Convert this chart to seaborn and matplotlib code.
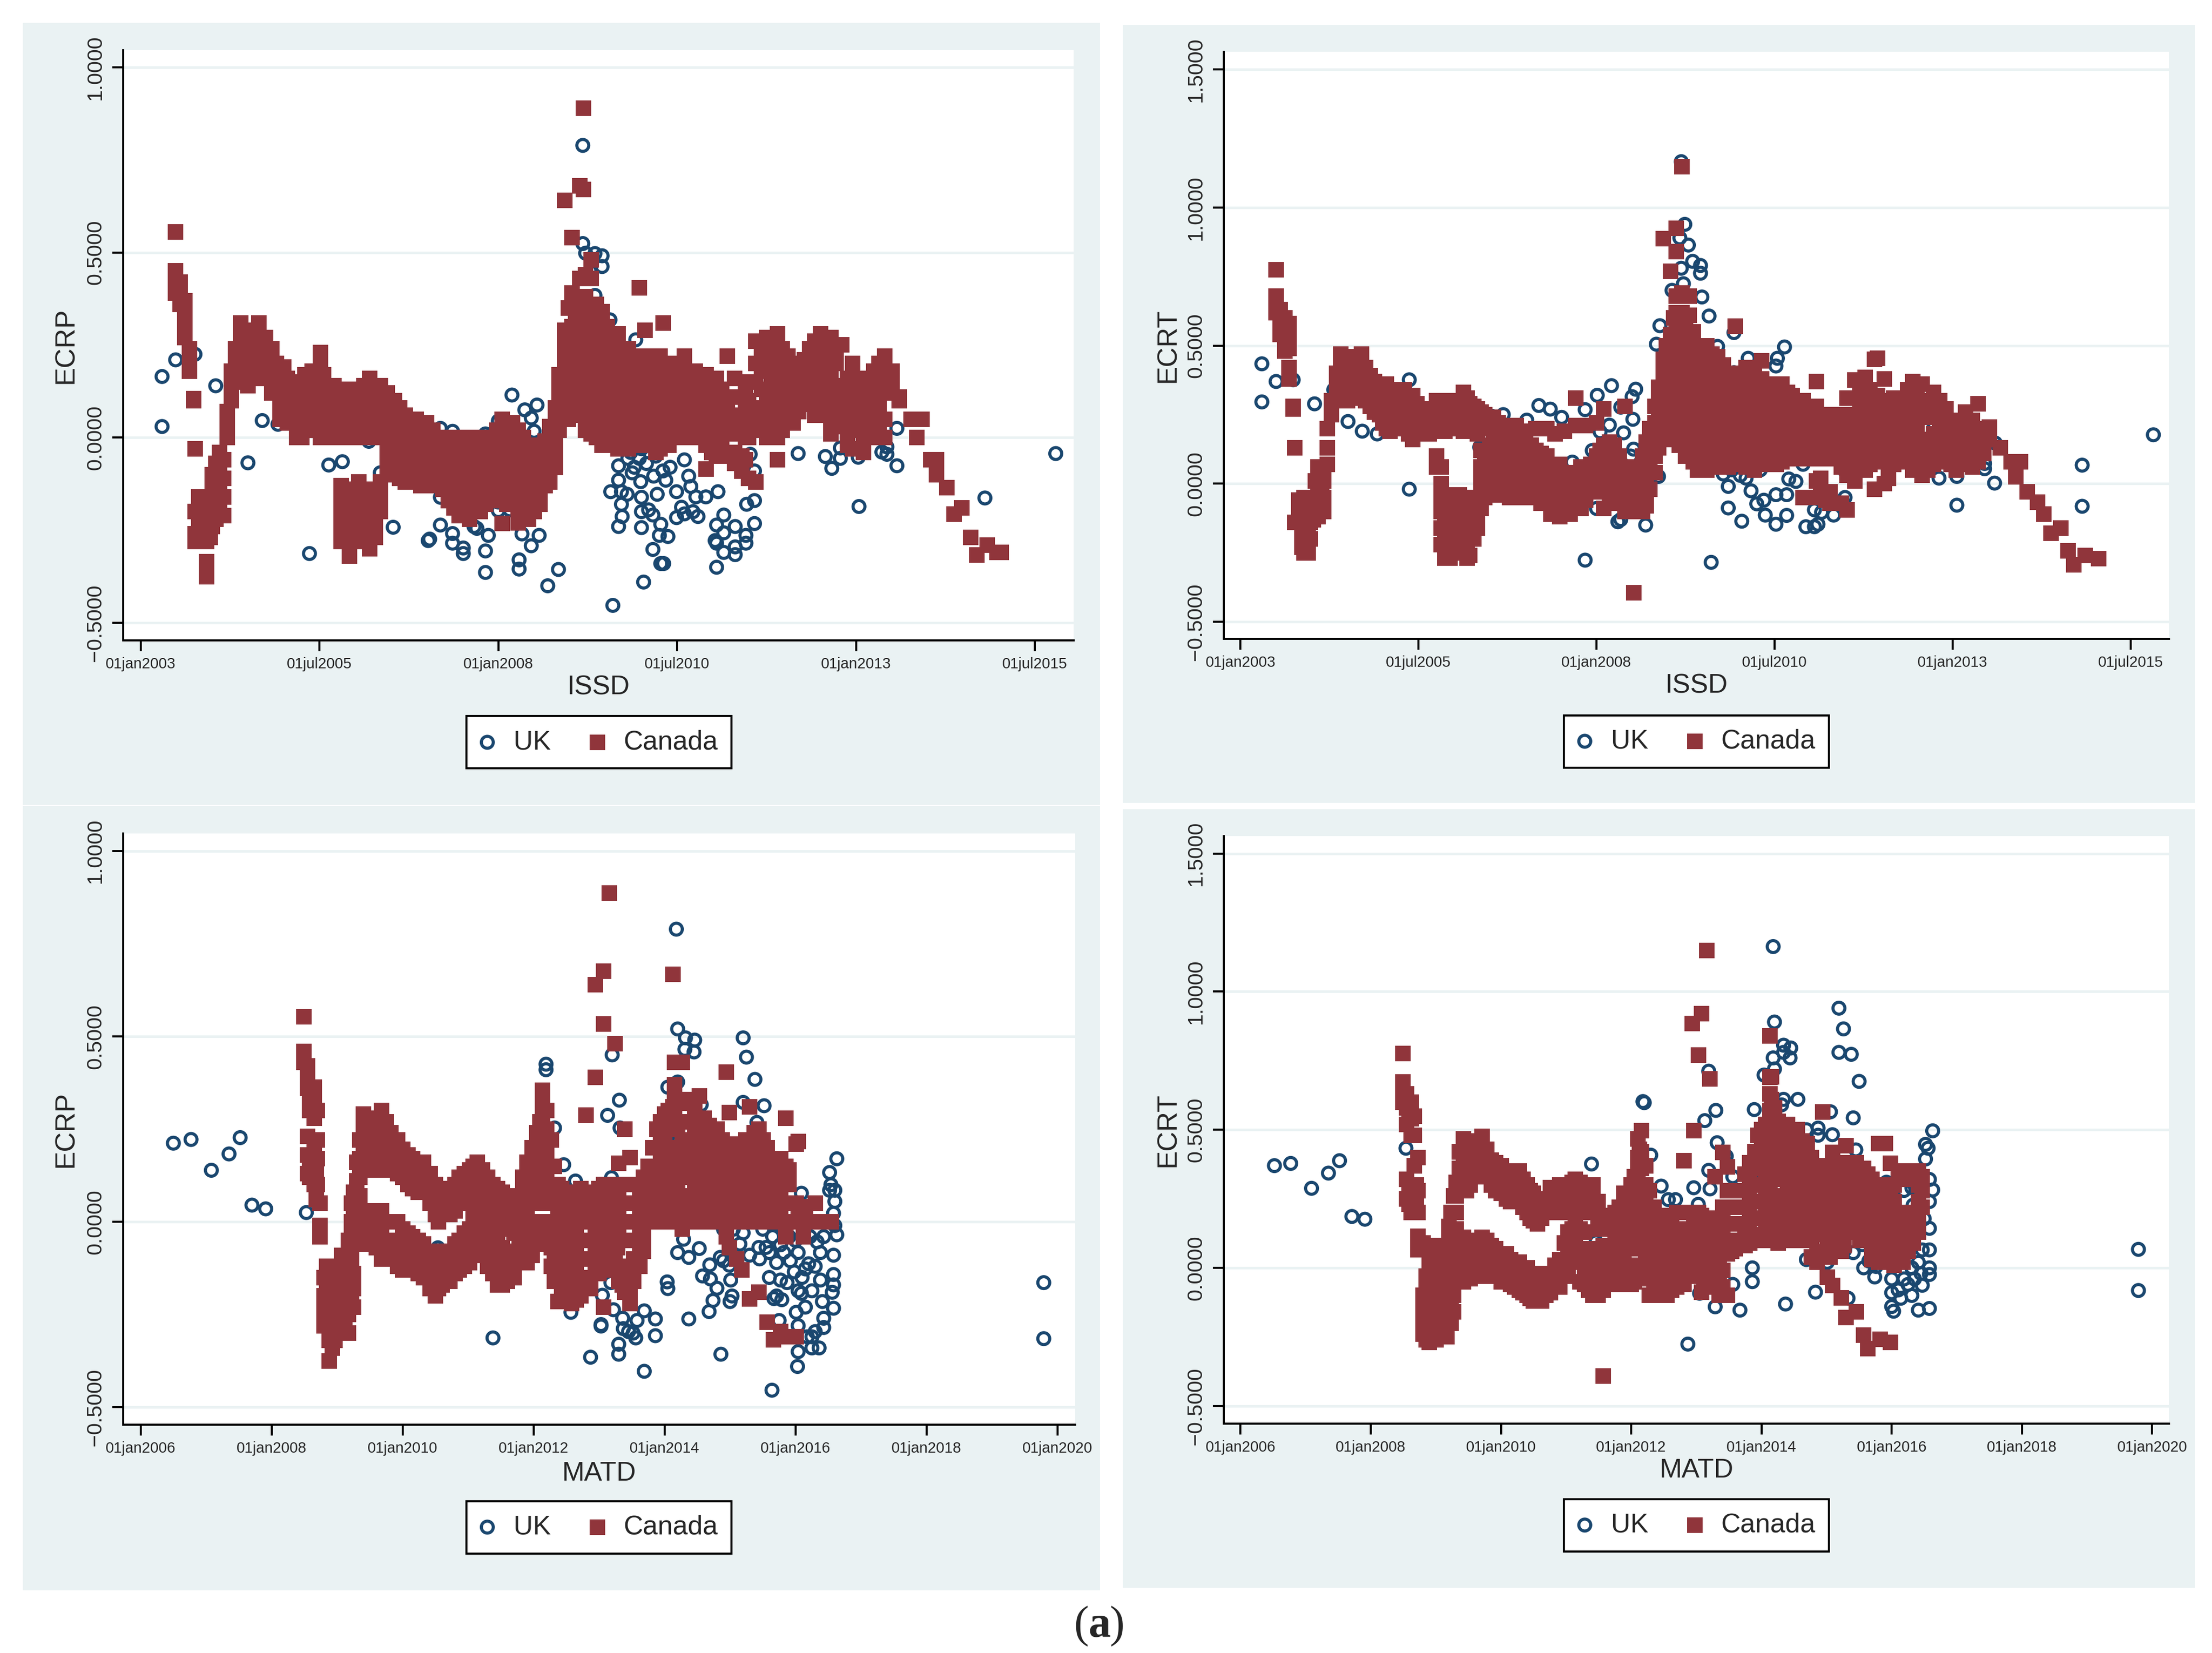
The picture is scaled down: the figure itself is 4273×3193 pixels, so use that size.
import matplotlib
matplotlib.use("Agg")
import matplotlib.pyplot as plt
from matplotlib.patches import Rectangle
import seaborn as sns
import pandas as pd

# figure size in pixels, everything below is placed in pixels too
W = 4273
H = 3193

NAVY = "#1a476f"
MAROON = "#90353b"
PANEL_BG = "#eaf2f3"

# dates are decimal years
issd_ticks = [2003.0, 2005.5, 2008.0, 2010.5, 2013.0, 2015.5]
issd_labels = ["01jan2003", "01jul2005", "01jan2008", "01jul2010", "01jan2013", "01jul2015"]
matd_ticks = [2006, 2008, 2010, 2012, 2014, 2016, 2018, 2020]
matd_labels = ["01jan2006", "01jan2008", "01jan2010", "01jan2012", "01jan2014", "01jan2016", "01jan2018", "01jan2020"]
ecrp_ticks = [-0.5, 0.0, 0.5, 1.0]
ecrt_ticks = [-0.5, 0.0, 0.5, 1.0, 1.5]

uk_issd_ecrp = [
    (2003.3,.165),(2003.3,.03),(2003.49,.21),(2003.76,.225),(2004.05,.14),(2004.35,.184),(2004.5,-.068),
    (2004.7,.046),(2004.92,.036),(2005.19,.014),(2005.36,.07),(2005.36,-.313),(2005.63,-.074),(2005.82,-.065),
    (2006.19,-.01),(2006.35,-.095),(2006.53,-.242),(2007.02,-.278),(2007.04,-.274),(2007.19,-.161),(2007.19,-.236),
    (2007.19,.025),(2007.36,.017),(2007.36,-.259),(2007.36,-.285),(2007.51,-.011),(2007.51,-.298),(2007.51,-.313),
    (2007.66,-.053),(2007.66,-.24),(2007.7,-.245),(2007.82,.01),(2007.82,-.306),(2007.82,-.364),(2007.86,-.264),
    (2008.0,.045),(2008.0,-.174),(2008.0,-.197),(2008.16,-.195),(2008.19,.115),(2008.29,-.33),(2008.29,-.355),
    (2008.33,-.26),(2008.37,.075),(2008.46,.053),(2008.46,-.292),(2008.5,.017),(2008.54,.088),(2008.57,-.264),
    (2008.69,-.4),(2008.84,-.356),(2008.8,-.042),(2009.03,.07),(2009.05,.362),(2009.18,.789),(2009.18,.524),
    (2009.22,.498),(2009.35,.497),(2009.45,.491),(2009.45,.462),(2009.28,.45),(2009.35,.384),(2009.56,.318),
    (2009.45,.313),(2009.92,.264),(2009.6,-.453),(2010.03,-.39),(2009.68,-.076),(2009.68,-.115),(2009.57,-.146),
    (2009.72,-.146),(2009.72,-.18),(2009.68,-.24),(2009.73,-.213),(2009.81,-.056),(2009.8,-.153),(2009.87,-.095),
    (2009.97,-.056),(2009.99,-.119),(2010.0,-.161),(2010.0,-.2),(2010.0,-.243),(2010.1,-.195),(2010.16,-.209),
    (2010.16,-.302),(2010.27,-.234),(2010.25,-.264),(2010.27,-.34),(2010.31,-.34),(2010.37,-.267),(2010.22,-.153),
    (2010.34,-.115),(2010.17,-.104),(2010.07,-.07),(2010.49,-.216),(2010.49,-.146),(2010.56,-.188),(2010.6,-.206),
    (2010.72,-.2),(2010.79,-.213),(2010.69,-.132),(2010.66,-.104),(2010.76,-.16),(2010.9,-.16),(2011.07,-.146),
    (2011.05,-.35),(2011.05,-.236),(2011.03,-.278),(2011.05,-.285),(2011.15,-.209),(2011.15,-.257),(2011.15,-.31),
    (2011.31,-.24),(2011.31,-.295),(2011.31,-.316),(2011.46,-.264),(2011.46,-.285),(2011.47,-.18),(2011.58,-.17),
    (2011.58,-.232),(2011.58,-.09),(2011.52,-.045),(2011.87,.025),(2012.19,-.043),(2011.92,.07),(2012.57,-.051),
    (2012.66,-.083),(2012.78,-.056),(2012.78,-.028),(2012.68,.09),(2013.03,-.053),(2013.04,-.186),(2013.36,-.039),
    (2013.43,-.025),(2013.43,-.045),(2013.57,-.076),(2013.57,.025),(2014.8,-.163),(2015.79,-.043),(2011.68,.08),
    (2012.54,.11),(2009.85,-.04),(2010.0,-.03),(2010.2,-.05),(2010.4,-.08),(2010.6,-.06),(2009.9,-.08),(2010.3,-.09),
]

canada_issd_ecrp = [
    (2003.49,[.555,.45,.42,.39]),(2003.55,[.42,.38,.36]),(2003.62,[.37,.33,.3,.27]),(2003.68,[.24,.21,.18]),
    (2003.74,[.1,.105]),(2003.76,[-.03,-.2,-.26,-.28]),(2003.85,[-.17,-.2,-.24,-.28]),(2003.92,[-.335,-.376,-.28]),
    (2003.97,[-.17,-.22,-.27]),(2004.05,[-.07,-.12,-.17,-.22]),(2004.16,[-.06,-.11,-.16,-.21]),(2004.21,[0.0,.03,.07]),
    (2004.27,[.1,.14,.18]),(2004.4,[.31,.27,.24,.2,.15]),(2004.5,[.29,.25,.21,.14]),(2004.65,[.31,.27,.24]),
    (2004.75,[.27,.23,.19,.16]),(2004.9,[.2,.16,.13]),(2005.0,[.19,.15,.11,.07]),(2005.1,[.14,.1,.05]),
    (2005.18,[0.0,.03,.13]),(2005.3,[.17,.13,.1,.05]),(2005.51,[.23,.19,.15,.11,.07,.03,0.0]),(2005.62,[.14,.1,.06,.02,0.0]),
    (2005.8,[.13,.09,.05,.01,-.13,-.17,-.2,-.24,-.28]),(2005.92,[.13,.09,.04,0.0,-.15,-.2,-.25,-.29,-.32]),
    (2006.05,[.13,.1,.05,0.0,-.12,-.17,-.22,-.27]),(2006.2,[.16,.12,.08,0.0,-.17,-.21,-.25,-.3]),
    (2006.35,[.14,.1,.06,0.0,-.12,-.16,-.2]),(2006.55,[.1,.06,.02,-.02,-.06,-.1]),(2006.7,[.06,.02,-.02,-.06,-.1,-.12]),
    (2006.85,[.05,0.0,-.04,-.08,-.12]),(2007.0,[.04,0.0,-.04,-.08,-.12]),(2007.15,[0.0,-.04,-.08,-.12]),
    (2007.3,[0.0,-.05,-.09,-.13,-.17]),(2007.45,[0.0,-.05,-.1,-.14,-.18,-.21]),(2007.6,[0.0,-.06,-.1,-.14,-.18,-.22]),
    (2007.75,[0.0,-.04,-.08,-.12,-.16,-.2]),(2007.9,[0.0,-.04,-.08,-.12,-.16]),(2008.05,[.05,0.0,-.04,-.08,-.12,-.231]),
    (2008.2,[.04,0.0,-.04,-.08,-.12,-.16]),(2008.35,[0.0,-.05,-.09,-.13,-.17,-.21]),(2008.5,[-.04,-.08,-.12,-.16,-.2]),
    (2008.65,[-.01,-.05,-.09,-.13]),(2008.8,[.08,.04,0.0,-.04,-.08]),(2008.85,[.17,.13,.1,.06,.02]),
    (2008.93,[.64,.29,.25,.21,.17,.13]),(2009.03,[.54,.39,.3,.26,.22,.18,.14]),
    (2009.14,[.68,.43,.36,.32,.28,.24,.2,.16,.12,.06]),(2009.19,[.89,.67]),
    (2009.3,[.48,.43,.34,.3,.26,.22,.18,.14,.1,.05,.01]),(2009.45,[.34,.3,.26,.22,.18,.14,.1,.06,.02,-.02]),
    (2009.6,[.26,.22,.18,.14,.1,.06,.02,-.02]),(2009.75,[.24,.2,.16,.12,.08,.04,0.0,-.03]),(2009.9,[.2,.16,.12,.08,.04,0.0]),
    (2009.97,[.405]),(2010.05,[.29,.2,.16,.12,.08,.04,0.0]),(2010.2,[.2,.16,.12,.08,.04,0.0,-.04]),
    (2010.3,[.31,.19,.15,.11,.07,.03,0.0]),(2010.45,[.2,.16,.12,.08,.04,0.0]),(2010.6,[.22,.15,.1,.05,0.0]),
    (2010.75,[.18,.12,.08,.04,0.0]),(2010.9,[.17,.1,.06,.02,-.02,-.085]),(2011.05,[.16,.1,.05,0.0,-.05]),
    (2011.2,[.22,.1,.06,.02,-.04]),(2011.4,[.11,.06,.02,-.05,-.09]),(2011.5,[.15,.1,0.0,-.11]),
    (2011.6,[.26,.2,.15,.06,.02,-.12]),(2011.75,[.27,.22,.18,.12,.07,0.0]),(2011.9,[.28,.18,.14,.1,.06,0.0,-.06]),
    (2012.05,[.22,.18,.13,.09,.04]),(2012.2,[.2,.15,.12,.07]),(2012.35,[.24,.18,.13,.09]),(2012.5,[.28,.23,.2,.15,.08]),
    (2012.65,[.27,.22,.18,.1,.05,.01]),(2012.8,[.25,.14,.08,.04]),(2012.95,[.2,.14,.08,.02,-.03]),(2013.1,[.14,.08,0.0,-.04]),
    (2013.25,[.18,.14,.04,0.0]),(2013.4,[.22,.17,.12,.05,0.0]),(2013.5,[.18,.14]),(2013.6,[.11,.1]),
    (2013.77,[.05]),(2013.85,[0.0]),(2013.92,[.05]),(2014.04,[-.06]),(2014.12,[-.06,-.1]),(2014.27,[-.135]),
    (2014.37,[-.206]),(2014.48,[-.19]),(2014.6,[-.27]),(2014.69,[-.317]),(2014.83,[-.29]),(2014.97,[-.31]),(2015.03,[-.31]),
    # the thick part of the band
    (2004.33,[.2,.16,.24]),(2004.45,[.29,.23,.18]),(2004.58,[.28,.24,.2,.16]),(2004.7,[.22,.18]),(2004.83,[.24,.2,.16,.12]),
    (2004.95,[.17,.13,.09,.05]),(2005.05,[.16,.12,.08,.04]),(2005.25,[.15,.11,.07,.03,0.0]),(2005.4,[.18,.14,.1,.06,.02]),
    (2005.56,[.17,.13,.09,.05,.01]),(2005.7,[.14,.1,.06,.02,0.0]),(2003.81,[-.16,-.22,-.24]),(2003.88,[-.26,-.22,-.18]),
    (2004.0,[-.24,-.2,-.14,-.1]),(2004.1,[-.08,-.14,-.2,-.04]),(2005.86,[-.14,-.22,-.26,.11,.07,.03,0.0]),
    (2005.98,[-.14,-.18,-.24,-.28,.11,.07,.02]),(2006.12,[-.14,-.19,-.24,-.28,.14,.1,.06,.02]),
    (2006.28,[-.14,-.18,-.23,-.27,.14,.1,.06,.02]),(2006.45,[.12,.08,.04,0.0,-.04,-.08]),(2006.62,[.08,.04,0.0,-.04,-.08,-.11]),
    (2006.78,[.04,0.0,-.04,-.08,-.12]),(2006.92,[.02,-.02,-.06,-.1,-.13]),(2007.08,[.02,-.02,-.06,-.1,-.13]),
    (2007.22,[-.02,-.06,-.1,-.14]),(2007.38,[-.02,-.07,-.11,-.15,-.19]),(2007.52,[-.02,-.07,-.12,-.16,-.2]),
    (2007.68,[-.02,-.08,-.12,-.16,-.2]),(2007.82,[-.02,-.06,-.1,-.14,-.18]),(2007.98,[.02,-.02,-.06,-.1,-.14,-.17]),
    (2008.12,[.02,-.02,-.06,-.1,-.14,-.18]),(2008.28,[.02,-.02,-.07,-.11,-.15,-.19,-.23]),(2008.42,[-.02,-.06,-.1,-.14,-.18,-.22]),
    (2008.58,[-.02,-.06,-.1,-.14,-.18]),(2008.72,[.03,-.01,-.05,-.09,-.12]),(2008.98,[.28,.24,.2,.16,.12,.09,.05,.35]),
    (2009.08,[.34,.3,.26,.22,.18,.14,.1]),(2009.22,[.38,.34,.3,.26,.22,.18,.14,.1,.06,.02,.44]),
    (2009.37,[.36,.32,.28,.24,.2,.16,.12,.08,.04,0.0]),(2009.52,[.3,.26,.22,.18,.14,.1,.06,.02,-.02]),
    (2009.67,[.28,.24,.2,.16,.12,.08,.04,0.0,-.03]),(2009.82,[.24,.2,.16,.12,.08,.04,0.0,-.03]),
    (2009.98,[.22,.18,.14,.1,.06,.02,-.02]),(2010.12,[.22,.18,.14,.1,.06,.02,-.02]),(2010.26,[.22,.18,.14,.1,.06,.02,-.03]),
    (2010.38,[.2,.16,.12,.08,.04,0.0,-.02]),(2010.52,[.2,.17,.13,.09,.05,.01]),(2010.68,[.18,.14,.1,.06,.02]),
    (2010.82,[.14,.1,.06,.02]),(2010.98,[.14,.09,.04,0.0,-.04]),(2011.12,[.13,.08,.04,0.0,-.05]),(2011.3,[.16,.11,.06,.01,-.04,-.07]),
    (2011.45,[.13,.08,.04,0.0,-.06]),(2011.68,[.24,.18,.13,.08,.04]),(2011.82,[.25,.2,.15,.1,.05,.02]),(2011.97,[.24,.2,.15,.1,.06,.02]),
    (2012.12,[.2,.16,.12,.08,.04]),(2012.28,[.21,.17,.13,.1]),(2012.42,[.26,.22,.18,.14,.1,.06]),(2012.58,[.27,.23,.19,.14,.1,.06]),
    (2012.72,[.24,.2,.12,.07,.03]),(2012.88,[.16,.1,.06,.02,-.02]),(2013.02,[.16,.1,.06,.02]),(2013.18,[.16,.12,.06,.02]),
    (2013.32,[.2,.16,.1,.06,.02]),
]

uk_issd_ecrt = [
    (2003.3,.434),(2003.3,.296),(2003.5,.37),(2003.74,.376),(2004.04,.289),(2004.31,.34),(2004.51,.225),(2004.71,.19),
    (2004.92,.18),(2005.37,.376),(2005.37,-.02),(2006.36,.132),(2006.53,.244),(2006.69,.25),(2006.87,.165),(2007.02,.23),
    (2007.19,.283),(2007.35,.27),(2007.51,.24),(2007.66,.078),(2007.84,.268),(2007.84,-.277),(2007.94,.12),(2008.0,-.09),
    (2008.01,.32),(2008.05,.188),(2008.18,.212),(2008.21,.355),(2008.3,-.138),(2008.34,-.13),(2008.34,.277),(2008.38,.184),
    (2008.48,.1),(2008.52,.125),(2008.51,.233),(2008.55,.342),(2008.5,.315),(2008.69,-.15),(2008.79,.11),(2008.87,.026),
    (2008.89,.572),(2008.84,.505),(2009.06,.7),(2009.19,1.166),(2009.24,.939),(2009.17,.89),(2009.29,.864),(2009.35,.805),
    (2009.46,.79),(2009.46,.762),(2009.19,.78),(2009.22,.724),(2009.48,.676),(2009.58,.607),(2009.93,.547),(2009.7,.497),
    (2010.13,.454),(2009.93,.402),(2010.64,.495),(2010.54,.454),(2010.52,.426),(2009.61,-.285),(2009.85,-.088),(2009.85,-.01),
    (2009.78,.035),(2010.04,-.136),(2010.02,.03),(2010.17,-.026),(2010.25,-.073),(2010.35,-.06),(2010.37,-.114),(2010.52,-.04),
    (2010.52,-.147),(2010.67,-.115),(2010.67,-.04),(2010.7,.017),(2010.8,.008),(2010.94,-.156),(2011.06,-.156),(2011.11,-.147),
    (2011.06,-.095),(2011.16,-.104),(2011.33,-.114),(2011.49,-.05),(2011.49,.045),(2011.6,.23),(2011.85,.13),(2011.83,.1),
    (2012.1,.095),(2012.23,.12),(2012.59,.2),(2012.81,.02),(2013.06,-.078),(2013.06,.026),(2013.45,.073),(2013.45,.054),
    (2013.59,.002),(2013.6,.147),(2014.82,.067),(2014.82,-.082),(2015.82,.177),(2009.9,.05),(2010.1,.02),(2010.3,.05),
    (2010.9,.07),(2011.0,.16),(2011.15,.15),(2011.3,.1),(2011.7,.06),(2012.4,.15),(2012.7,.17),(2013.2,.08),
]

canada_issd_ecrt = [
    (2003.5,[.775,.68,.65,.62]),(2003.56,[.63,.6,.57,.54]),(2003.62,[.6,.56,.52,.48]),(2003.68,[.58,.54,.49,.42,.38]),
    (2003.74,[.28,.27]),(2003.76,[.13,-.14]),(2003.82,[-.06,-.1,-.14]),(2003.89,[-.05,-.1,-.15,-.2,-.25]),
    (2003.95,[-.06,-.11,-.16,-.25]),(2004.02,[-.05,-.09,-.13]),(2004.09,[.06,.02,-.03,-.08,-.12]),(2004.17,[.06,.01,-.05,-.1]),
    (2004.22,[.2,.13,.07]),(2004.28,[.3,.25]),(2004.35,[.4,.35,.3]),(2004.41,[.47,.43,.39,.35,.32]),(2004.5,[.46,.42,.38,.34,.3]),
    (2004.6,[.45,.41,.37]),(2004.7,[.47,.43,.39,.35]),(2004.82,[.39,.35,.31,.28]),(2004.95,[.36,.33,.29,.25]),
    (2005.05,[.36,.32,.28,.24,.2]),(2005.15,[.33,.29,.25,.2]),(2005.3,[.34,.3,.26,.22]),(2005.42,[.32,.28,.24,.2,.16]),
    (2005.52,[.27,.23,.19]),(2005.65,[.25,.21,.18]),(2005.75,[.3,.25,.21,.1,.06]),(2005.87,[.3,.26,.22,.19,-.05,-.1,-.15,-.2,-.27]),
    (2006.0,[.3,.25,.21,-.06,-.12,-.17,-.22]),(2006.13,[.33,.28,.23,.19,-.05,-.1,-.15,-.2,-.25]),(2006.22,[.29,.24,.2,-.1,-.15,-.2,-.26]),
    (2006.33,[.27,.22,.18,-.07,-.12,-.16]),(2006.43,[.25,.2,.1,.05,0.0,-.05]),(2006.55,[.24,.19,.13,.08,.03]),
    (2006.7,[.21,.16,.12,.07,.02,-.03]),(2006.87,[.21,.18,.13,.08,.03]),(2007.0,[.19,.12,.07,.02,-.03]),(2007.15,[.2,.12,.07,.02,-.05]),
    (2007.3,[.2,.1,.05,0.0,-.06]),(2007.42,[.18,.05,0.0,-.05,-.11]),(2007.55,[.19,.02,-.04,-.1]),(2007.71,[.31,.21,.03,-.03,-.08]),
    (2007.85,[.21,.05,0.0,-.06]),(2008.0,[.22,.1,.05,0.0]),(2008.1,[.27,.14,.09,.04,-.09]),(2008.25,[.14,.08,.03,-.03]),
    (2008.4,[.28,.06,.01,-.05,-.1]),(2008.52,[.03,-.03,-.08,-.395]),(2008.65,[.1,.05,-.01,-.06,-.1]),(2008.75,[.2,.15,.09,.04,-.02]),
    (2008.87,[.35,.3,.25,.19,.13]),(2008.94,[.887,.45,.4,.35,.3,.25,.2]),(2009.04,[.77,.54,.48,.42,.36,.3,.25,.2,.16]),
    (2009.12,[.925,.84,.68,.62,.56,.5,.44,.38,.32,.26,.2,.16]),(2009.2,[1.147,.69,.62,.565,.5,.45,.4,.34,.28,.22,.17]),
    (2009.3,[.68,.61,.52,.46,.4,.34,.28,.22,.16,.1]),(2009.42,[.5,.44,.38,.32,.26,.2,.14,.08,.05]),
    (2009.55,[.5,.44,.38,.32,.26,.2,.14,.08,.05]),(2009.7,[.46,.4,.34,.28,.22,.16,.1,.06]),(2009.85,[.4,.34,.28,.22,.16,.1,.06]),
    (2009.95,[.57,.38,.32,.26,.2,.14,.08]),(2010.1,[.42,.36,.3,.24,.18,.12,.06]),(2010.22,[.4,.34,.28,.22,.16,.1,.05]),
    (2010.32,[.445,.38,.32,.26,.2,.14,.08]),(2010.45,[.36,.3,.24,.18,.12,.08]),(2010.6,[.36,.3,.24,.18,.12,.08]),
    (2010.75,[.32,.26,.2,.14,.09]),(2010.9,[.3,.24,.18,.12,.09,-.05]),(2011.09,[.37,.28,.22,.16,.11,.01,-.05]),
    (2011.22,[.25,.2,.15,.1,-.06]),(2011.35,[.25,.2,.15,.1,-.07]),(2011.52,[.31,.2,.12,.08,.03,-.095]),
    (2011.63,[.375,.31,.22,.12,.06,.01]),(2011.77,[.385,.31,.25,.19,.05]),(2011.9,[.45,.31,.26,.2,.15,-.02]),
    (2011.95,[.455,.32,.27,.2]),(2012.04,[.38,.3,.25,.2,.15,0.0]),(2012.17,[.31,.25,.2,.14,.07]),(2012.3,[.31,.26,.2,.14,.09]),
    (2012.44,[.37,.32,.26,.2,.11,.05]),(2012.57,[.36,.3,.25,.16,.08,.03]),(2012.73,[.33,.27,.18,.12,.07]),
    (2012.91,[.27,.19,.13,.08]),(2013.05,[.2,.15,.1,.05]),(2013.18,[.26,.2,.14,.07]),(2013.36,[.29,.18,.13,.08]),
    (2013.52,[.205,.16]),(2013.67,[.13]),(2013.82,[.08]),(2013.89,[.025]),(2013.95,[.08]),(2014.05,[-.03]),(2014.19,[-.067]),
    (2014.28,[-.11]),(2014.38,[-.18]),(2014.52,[-.16]),(2014.62,[-.244]),(2014.7,[-.294]),(2014.86,[-.26]),(2015.05,[-.272]),
    # the thick part of the band
    (2003.86,[-.08,-.13,-.18,-.23]),(2003.98,[-.08,-.14,-.2]),(2004.05,[.01,-.05,-.11]),(2004.14,[.04,-.02,-.08]),
    (2004.45,[.44,.4,.36,.32]),(2004.55,[.43,.39,.35,.31]),(2004.65,[.42,.38,.34]),(2004.76,[.42,.38,.34,.3]),
    (2004.88,[.37,.33,.29,.26]),(2005.0,[.34,.3,.26,.22]),(2005.1,[.34,.3,.26,.22,.19]),(2005.22,[.32,.28,.24,.2]),
    (2005.36,[.32,.28,.24,.2,.18]),(2005.48,[.29,.25,.21,.18]),(2005.58,[.26,.22,.19]),(2005.7,[.27,.23,.2]),
    (2005.82,[.06,0.0,-.05,-.1,-.16,-.22,.28,.24,.2]),(2005.94,[.28,.24,.2,-.04,-.09,-.14,-.19,-.24,-.27]),
    (2006.07,[.3,.25,.2,-.04,-.09,-.14,-.19,-.24]),(2006.18,[.31,.26,.21,-.07,-.12,-.18,-.23,-.27]),
    (2006.28,[.28,.23,.19,-.05,-.1,-.15,-.2]),(2006.38,[.26,.21,.12,.06,.01,-.04,-.09]),(2006.5,[.24,.2,.14,.08,.03,-.02]),
    (2006.62,[.22,.17,.12,.06,.01,-.04]),(2006.78,[.21,.15,.1,.05,0.0,-.05]),(2006.94,[.14,.09,.04,-.01,-.05]),
    (2007.08,[.14,.09,.04,-.01,-.05]),(2007.22,[.11,.06,.01,-.04,-.07]),(2007.36,[.07,.02,-.03,-.08,-.11]),
    (2007.48,[.07,.02,-.02,-.07,-.12]),(2007.63,[.04,-.01,-.06,-.11]),(2007.78,[.06,.01,-.04,-.09]),(2007.92,[.07,.02,-.03]),
    (2008.05,[.12,.07,.02,-.03]),(2008.18,[.15,.1,.05,0.0,-.05]),(2008.32,[.1,.05,-.02,-.07]),(2008.46,[.05,0.0,-.05,-.1]),
    (2008.58,[.06,0.0,-.05,-.1]),(2008.7,[.15,.08,.02,-.04,-.08]),(2008.82,[.28,.22,.16,.1,.04]),
    (2008.98,[.5,.45,.39,.33,.27,.22,.18]),(2009.08,[.6,.54,.48,.42,.36,.3,.24,.19]),(2009.16,[.6,.53,.47,.41,.35,.3,.24,.19,.14]),
    (2009.25,[.58,.5,.43,.37,.31,.25,.19,.14,.1]),(2009.36,[.55,.49,.43,.37,.31,.25,.19,.13,.08]),
    (2009.48,[.47,.41,.35,.29,.23,.17,.11,.07]),(2009.62,[.47,.41,.35,.29,.23,.17,.11,.07]),(2009.78,[.43,.37,.31,.25,.19,.13,.08]),
    (2009.9,[.37,.31,.25,.19,.13,.08]),(2010.02,[.4,.35,.29,.23,.17,.11,.07]),(2010.16,[.38,.32,.26,.2,.14,.08]),
    (2010.27,[.36,.3,.24,.18,.12,.07]),(2010.39,[.35,.29,.23,.17,.11,.07]),(2010.52,[.33,.27,.21,.15,.1,.07]),
    (2010.68,[.33,.27,.21,.15,.1]),(2010.82,[.29,.23,.17,.12,.09]),(2010.98,[.27,.21,.15,.11,.09]),
    (2011.15,[.23,.18,.13,.09,.02,-.03]),(2011.28,[.22,.17,.12,.09,-.03,-.07]),(2011.44,[.24,.18,.14,.1,.06,-.07]),
    (2011.57,[.25,.18,.14,.09,.05]),(2011.7,[.34,.28,.22,.16,.1,.05]),(2011.84,[.34,.28,.23,.17,.12,.07]),
    (2011.98,[.3,.24,.18,.12,.08]),(2012.1,[.28,.22,.17,.11,.05,.02]),(2012.24,[.28,.22,.17,.12,.08]),
    (2012.37,[.34,.28,.23,.17,.12,.08]),(2012.5,[.34,.28,.23,.18,.13,.08]),(2012.65,[.3,.24,.14,.1,.05]),
    (2012.82,[.3,.22,.16,.1]),(2012.98,[.23,.17,.12,.07]),(2013.12,[.23,.17,.12,.08]),(2013.28,[.23,.16,.1,.06]),
    (2013.44,[.2,.16,.11]),
]

uk_matd_ecrp = [
    (2006.5,.212),(2006.77,.222),(2007.08,.139),(2007.35,.183),(2007.52,.227),(2007.7,.045),(2007.91,.035),(2008.53,.025),
    (2010.54,-.07),(2011.38,-.313),(2012.05,.075),(2012.05,0.0),(2012.19,.425),(2012.19,.41),(2012.32,.253),(2012.46,.154),
    (2012.64,.11),(2012.57,-.244),(2012.87,-.365),(2013.03,-.277),(2013.03,-.281),(2013.05,-.198),(2013.2,.45),(2013.31,.328),
    (2013.13,.287),(2013.32,.253),(2013.19,.119),(2013.18,-.164),(2013.22,-.237),(2013.3,-.33),(2013.3,-.357),(2013.36,-.26),
    (2013.37,-.288),(2013.45,-.296),(2013.52,-.3),(2013.56,-.313),(2013.58,-.266),(2013.69,-.24),(2013.69,-.403),(2013.86,-.262),
    (2013.86,-.307),(2014.04,-.162),(2014.05,-.18),(2014.05,.363),(2014.2,.52),(2014.18,.789),(2014.31,.465),(2014.32,.496),
    (2014.46,.49),(2014.45,.458),(2014.2,.377),(2015.2,.496),(2015.25,.444),(2015.38,.384),(2015.2,.322),(2015.52,.313),
    (2015.41,.268),(2014.56,.316),(2014.05,.231),(2014.18,.195),(2014.37,-.262),(2014.86,-.357),(2015.64,-.454),(2016.03,-.39),
    (2016.04,-.35),(2016.25,-.34),(2016.36,-.34),(2016.25,-.31),(2014.68,-.242),(2015.0,-.215),(2014.74,-.212),(2015.03,-.2),
    (2014.8,-.179),(2014.58,-.146),(2014.7,-.154),(2014.69,-.116),(2014.53,-.072),(2014.37,-.096),(2014.2,-.083),(2014.29,-.047),
    (2015.01,-.157),(2014.85,-.096),(2014.9,-.105),(2014.99,-.117),(2016.63,.17),(2016.52,.133),(2016.54,.1),(2016.52,.085),
    (2016.6,.085),(2016.6,.055),(2016.58,.023),(2016.6,-.01),(2016.63,-.035),(2016.58,-.09),(2016.58,-.142),(2016.58,-.17),
    (2016.56,-.19),(2016.58,-.233),(2016.38,-.157),(2016.41,-.215),(2016.43,-.26),(2016.43,-.285),(2016.3,-.296),(2016.25,-.186),
    (2016.15,-.23),(2016.09,-.193),(2016.04,-.186),(2016.01,-.244),(2016.04,-.28),(2016.18,-.31),(2016.09,.077),(2015.71,-.2),
    (2015.79,-.21),(2015.67,-.207),(2015.75,-.266),(2015.6,-.15),(2015.77,-.157),(2015.87,-.164),(2015.98,-.135),(2016.15,-.127),
    (2016.2,-.113),(2016.04,-.083),(2015.82,-.083),(2015.6,-.083),(2015.44,-.069),(2015.65,-.04),(2015.9,-.04),(2016.22,-.04),
    (2016.38,-.083),(2016.33,-.054),(2016.43,-.04),(2015.71,-.11),(2015.55,-.069),(2015.77,-.062),(2015.92,-.105),(2015.2,-.03),
    (2015.05,-.02),(2014.9,-.02),(2014.7,.02),(2014.6,.05),(2014.75,.04),(2015.0,.03),(2015.15,.04),(2015.3,.05),(2019.79,-.164),
    (2019.79,-.315),(2016.0,-.05),(2015.8,-.02),(2015.5,-.02),(2016.1,-.15),(2016.3,-.12),(2015.45,-.1),(2015.3,-.09),(2015.15,-.06),
]

canada_matd_ecrp = [
    (2008.49,[.553,.46,.43]),(2008.55,[.42,.39,.36,.23,.18,.13]),(2008.65,[.363,.33,.28,.21,.17,.1]),(2008.7,[.3,.22,.17,.1]),
    (2008.74,[.05,-.01,-.04]),(2008.8,[-.15,-.2,-.24,-.28]),(2008.88,[-.14,-.19,-.23,-.27,-.32,-.376]),
    (2008.97,[-.14,-.19,-.23,-.28,-.32]),(2009.07,[-.09,-.13,-.18,-.22,-.27]),(2009.17,[-.05,-.1,-.15,-.2,-.25,-.3]),
    (2009.25,[.08,.03,-.02,-.06,-.14,-.18,-.23]),(2009.3,[.16,.11,.06,0.0,-.04]),(2009.4,[.29,.25,.2,.15,.02,-.02,-.06]),
    (2009.52,[.28,.23,.19,.14,.03,-.02,-.06]),(2009.68,[.3,.26,.21,.16,.03,-.03,-.08,-.1]),(2009.82,[.24,.19,.15,0.0,-.05,-.1]),
    (2010.0,[.195,.16,.12,-.02,-.06,-.1,-.13]),(2010.15,[.17,.13,.09,-.04,-.08,-.13]),(2010.32,[.16,.12,.08,-.06,-.1,-.15]),
    (2010.5,[.1,.06,.02,-.1,-.15,-.2]),(2010.6,[.07,.03,-.08,-.13,-.17]),(2010.72,[.09,.05,.02,-.08,-.12,-.16]),
    (2010.86,[.12,.09,.05,-.05,-.09,-.13]),(2011.02,[.14,.1,.05,-.02,-.07,-.11]),(2011.14,[.16,.12,.08,.05,0.0,-.04]),
    (2011.3,[.12,.08,.04,-.02,-.07,-.12]),(2011.45,[.09,.05,.01,-.06,-.12,-.17]),(2011.6,[.07,.03,-.02,-.08,-.12,-.16]),
    (2011.78,[.05,.01,-.05,-.09,-.11]),(2011.9,[.16,.12,.08,.04,-.02,-.06,-.11]),(2012.05,[.24,.18,.14,.1,.05,0.0,-.05]),
    (2012.14,[.355,.33,.29,.25,.2,.14,.08,-.04]),(2012.27,[.22,.15,.1,.05,-.03,-.07,-.12]),(2012.37,[.1,.06,.02,-.05,-.1,-.15,-.215]),
    (2012.5,[.08,.03,-.02,-.07,-.12,-.17,-.21]),(2012.65,[.07,.02,-.03,-.08,-.13,-.18,-.21]),(2012.8,[.287,.08,.04,0.0,-.05,-.1,-.16]),
    (2012.94,[.64,.39,.07,.03,-.02,-.07,-.12]),(2013.07,[.676,.534,.1,.05,0.0,-.05,-.1,-.23]),(2013.16,[.887,.09,.05,.01,-.04,-.09]),
    (2013.24,[.48,.06,.02,-.03,-.08,-.12]),(2013.3,[.158,.08,.03,-.02,-.12,-.16]),(2013.39,[.25,.1,.05,0.0,-.14,-.19]),
    (2013.47,[.173,.1,.05,0.0,-.18,-.22]),(2013.62,[.1,.06,.02,-.03,-.08,-.12]),(2013.75,[.15,.1,.06,.02]),
    (2013.88,[.25,.2,.14,.08,.04,0.0]),(2014.0,[.29,.24,.18,.12,.06,.02]),(2014.13,[.667,.31,.25,.18,.12,.06,0.0]),
    (2014.15,[.43,.37,.34,.28,.2,.14,.07,.02]),(2014.27,[.43,.32,.27,.21,.03,0.0,-.02]),(2014.4,[.33,.27,.22,.16,.06,0.0]),
    (2014.53,[.34,.28,.23,.18,.13,.07,0.0]),(2014.68,[.26,.22,.17,.12,.07,.05,0.0]),(2014.8,[.25,.2,.15,.1,.05,0.0]),
    (2014.94,[.404,.2,.15,.1,.05,0.0,-.04]),(2014.99,[.294,.19,.14,.09,.04,0.0,-.07]),(2015.1,[.21,.16,.11,.06,0.0,-.1]),
    (2015.18,[.21,.16,.11,.06,0.0,-.13]),(2015.3,[.31,.22,.17,.12,.07,0.0,-.208]),(2015.44,[.25,.2,.15,.1,0.0,-.19]),
    (2015.57,[.2,.15,.1,.05,0.0,-.27]),(2015.66,[.16,.11,.06,.02,0.0,-.318]),(2015.77,[.17,.12,.07,.02,0.0,-.296]),
    (2015.85,[.28,.15,.1,.05,0.0,-.04]),(2015.9,[.14,.1,.05,0.0,-.31]),(2016.01,[.21,.05,0.0,-.31]),(2016.04,[.217,.02,0.0]),
    (2016.12,[.02,0.0,-.04]),(2016.15,[.04,0.0]),(2016.3,[.05,0.0]),(2016.42,[0.0]),(2016.55,[0.0]),
    # the thick part of the band
    (2008.58,[.34,.3,.16,.12]),(2008.68,[.14,.06]),(2008.84,[-.18,-.22,-.26,-.12]),(2008.93,[-.12,-.17,-.21,-.25,-.29,-.34]),
    (2009.02,[-.12,-.16,-.21,-.25,-.3]),(2009.12,[-.1,-.15,-.2,-.24,-.28]),(2009.22,[-.04,-.1,-.16,-.21,0.0,.05]),
    (2009.35,[.22,.17,.12,.07,.01,-.04]),(2009.46,[.26,.22,.17,.03,-.01,-.05]),(2009.6,[.28,.24,.19,.14,.02,-.03,-.07]),
    (2009.75,[.27,.22,.18,.14,0.0,-.05,-.09]),(2009.92,[.22,.18,.13,0.0,-.05,-.09,-.12]),(2010.08,[.18,.14,.1,-.03,-.07,-.12]),
    (2010.24,[.16,.12,.08,-.05,-.09,-.14]),(2010.42,[.13,.09,.05,-.08,-.13,-.18]),(2010.55,[.08,.04,0.0,-.09,-.14,-.18]),
    (2010.66,[.08,.04,-.08,-.12,-.16]),(2010.8,[.1,.06,.03,-.06,-.1,-.14]),(2010.94,[.13,.09,.05,-.03,-.08,-.12]),
    (2011.08,[.15,.11,.06,.02,-.02,-.06]),(2011.22,[.14,.1,.06,.01,-.04,-.09]),(2011.38,[.1,.06,.02,-.04,-.09,-.14]),
    (2011.52,[.08,.04,0.0,-.07,-.12,-.17]),(2011.7,[.06,.02,-.03,-.08,-.12,-.15]),(2011.84,[.12,.08,.03,-.02,-.06,-.1]),
    (2011.98,[.2,.14,.09,.05,0.0,-.05,-.09]),(2012.1,[.27,.22,.16,.11,.05,0.0,-.05]),(2012.2,[.3,.25,.18,.12,.06,0.0,-.06,.22]),
    (2012.32,[.15,.1,.05,0.0,-.05,-.1,-.16]),(2012.43,[.09,.05,0.0,-.05,-.1,-.15,-.2]),(2012.58,[.07,.03,-.02,-.07,-.12,-.17,-.22]),
    (2012.72,[.09,.04,0.0,-.05,-.1,-.15,-.2]),(2012.87,[.08,.04,0.0,-.05,-.1,-.15,-.18]),(2013.0,[.09,.05,0.0,-.05,-.1,-.14]),
    (2013.12,[.1,.05,.01,-.04,-.09,-.13]),(2013.28,[.08,.03,-.02,-.07,-.12]),(2013.35,[.1,.05,0.0,-.05,-.12,-.17]),
    (2013.53,[.1,.05,0.0,-.05,-.1,-.16]),(2013.68,[.12,.08,.04,0.0,-.04,-.08]),(2013.82,[.2,.14,.08,.04,0.0]),
    (2013.94,[.27,.22,.16,.1,.04,0.0]),(2014.06,[.3,.25,.2,.14,.08,.03]),(2014.2,[.32,.26,.2,.14,.08,.03]),
    (2014.33,[.33,.27,.22,.17,.12,.07,.02]),(2014.46,[.3,.25,.2,.15,.1,.05,.02]),(2014.6,[.28,.23,.18,.13,.08,.03]),
    (2014.74,[.24,.19,.14,.09,.05,.02]),(2014.88,[.22,.17,.12,.07,.03]),(2015.04,[.2,.15,.1,.05,.02]),(2015.14,[.2,.15,.1,.05,.02]),
    (2015.24,[.22,.17,.12,.07,.03]),(2015.37,[.24,.19,.14,.09,.05,.02]),(2015.5,[.22,.17,.12,.07,.03]),(2015.62,[.16,.12,.08,.03]),
    (2015.72,[.15,.1,.05,.02]),
]

uk_matd_ecrt = [
    (2006.52,.37),(2006.77,.378),(2007.09,.288),(2007.35,.343),(2007.52,.388),(2007.71,.186),(2007.91,.176),(2008.54,.433),
    (2011.39,.376),(2011.46,.094),(2012.18,.602),(2012.2,.598),(2012.3,.408),(2012.46,.296),(2012.57,.247),(2012.68,.247),
    (2012.05,.24),(2012.87,-.276),(2012.96,.29),(2013.03,.23),(2013.05,-.035),(2013.05,-.092),(2013.13,.533),(2013.19,.712),
    (2013.3,.57),(2013.19,.353),(2013.21,.286),(2013.32,.453),(2013.29,-.141),(2013.46,.404),(2013.56,.33),(2013.67,-.153),
    (2013.56,-.06),(2013.78,.33),(2013.86,-.05),(2013.86,0.0),(2013.89,.573),(2014.04,.698),(2014.04,.398),(2014.04,.37),
    (2014.04,.323),(2014.2,.89),(2014.18,1.163),(2014.18,.76),(2014.2,.72),(2014.34,.806),(2014.34,.78),(2014.45,.796),
    (2014.44,.76),(2014.31,.59),(2014.34,.61),(2014.37,-.131),(2014.56,.61),(2014.69,.5),(2014.87,.506),(2014.87,.48),
    (2014.83,-.088),(2014.69,.03),(2015.01,.02),(2015.06,.565),(2015.09,.482),(2015.19,.94),(2015.26,.865),(2015.19,.78),
    (2015.38,.773),(2015.5,.675),(2015.41,.543),(2015.45,.427),(2015.33,-.11),(2015.28,.065),(2015.41,.055),(2015.57,0.0),
    (2015.55,.084),(2015.65,.025),(2015.76,.005),(2015.74,-.033),(2015.82,.075),(2015.71,.065),(2015.92,.31),(2016.63,.496),
    (2016.52,.447),(2016.56,.433),(2016.52,.394),(2016.58,.32),(2016.63,.282),(2016.58,.24),(2016.5,.178),(2016.58,.143),
    (2016.47,.065),(2016.58,.065),(2016.58,0.0),(2016.58,-.024),(2016.47,-.063),(2016.31,-.1),(2016.58,-.147),(2016.41,-.153),
    (2016.03,-.157),(2016.0,-.14),(2016.0,-.09),(2016.0,-.04),(2016.14,-.11),(2016.19,-.04),(2016.31,0.0),(2016.41,.02),
    (2016.19,.28),(2016.31,.29),(2016.14,.2),(2016.33,.227),(2016.25,-.06),(2016.1,-.08),(2016.35,-.04),(2016.45,-.02),
    (2019.79,.067),(2019.79,-.082),(2014.0,.3),(2014.6,.25),
]

canada_matd_ecrt = [
    (2008.49,[.775,.672,.64,.6]),(2008.55,[.63,.58,.52,.32,.25]),(2008.62,[.6,.54,.48,.27,.2]),(2008.67,[.55,.48,.37,.22]),
    (2008.72,[.4,.28,.2,.114,.065]),(2008.8,[.09,-.1,-.15,-.2,-.24]),(2008.9,[.02,-.03,-.08,-.13,-.18,-.23,-.27]),
    (2009.0,[.08,.03,-.02,-.07,-.12,-.17,-.22,-.26]),(2009.08,[.06,0.0,-.05,-.1,-.15,-.2,-.25]),(2009.17,[.08,.03,-.02,-.07,-.12,-.17,-.21,-.25]),
    (2009.2,[.15,.1]),(2009.27,[.26,.2,.14,.07,-.1,-.16]),(2009.31,[.31,.26,.2,.14]),(2009.42,[.467,.42,.37,.33,.11,.06,0.0,-.05]),
    (2009.53,[.46,.41,.36,.3,.1,.05,0.0,-.04]),(2009.71,[.476,.43,.38,.33,.11,.07,.02,-.03]),(2009.85,[.39,.34,.3,.08,.03,-.02]),
    (2010.0,[.37,.32,.27,.05,0.0,-.05]),(2010.15,[.34,.29,.24,.03,-.02,-.06]),(2010.28,[.35,.3,.25,.02,-.03,-.08]),
    (2010.4,[.3,.25,.2,0.0,-.05,-.1]),(2010.5,[.27,.22,.17,-.03,-.08,-.12]),(2010.62,[.23,.18,-.04,-.08,-.12]),
    (2010.76,[.29,.25,.2,-.02,-.06,-.09]),(2010.9,[.3,.26,.22,.03,-.02,-.07]),(2011.03,[.29,.25,.13,.08,.04,-.01]),
    (2011.14,[.32,.27,.23,.16,.1,.05]),(2011.28,[.3,.25,.2,.13,.06,0.0,-.06]),(2011.41,[.3,.25,.2,.05,0.0,-.05,-.1]),
    (2011.57,[.19,.14,.08,.03,-.03,-.08,-.392]),(2011.75,[.2,.15,.1,.05,0.0,-.04]),(2011.89,[.27,.22,.15,.09,.04,-.01,-.06]),
    (2012.0,[.3,.24,.18,.12,.07,.01,-.06]),(2012.1,[.467,.4,.35,.3,.2,.13,.07,0.0]),(2012.16,[.496,.42,.36,.28,.2,.13,.07]),
    (2012.28,[.28,.2,.14,.08,.03,-.03,-.1]),(2012.42,[.17,.11,.06,0.0,-.05,-.1]),(2012.55,[.19,.14,.08,.03,-.03,-.1]),
    (2012.7,[.2,.14,.09,.03,-.02,-.07]),(2012.81,[.388,.2,.14,.09,.03,-.03,-.06]),(2012.94,[.884,.2,.14,.08,.03,-.03]),
    (2012.96,[.496,.18,.12,.06,0.0]),(2013.03,[.77,.2,.14,.08,.02,-.03]),(2013.08,[.92,.19,.13,.07,.01,-.088]),
    (2013.16,[1.149,.18,.12,.06,0.0,-.05]),(2013.21,[.684,.15,.09,.03,-.03]),(2013.29,[.33,.17,.11,.05,-.01,-.07]),
    (2013.41,[.418,.22,.17,.11,.05,-.01,-.07]),(2013.48,[.365,.28,.22,.16,.1,.05,-.1]),(2013.6,[.28,.22,.16,.1,.07]),
    (2013.75,[.34,.28,.22,.16,.12,.08]),(2013.9,[.42,.36,.3,.24,.18,.12,.1]),(2014.0,[.5,.44,.38,.3,.24,.18,.1]),
    (2014.13,[.84,.69,.63,.57,.51,.45,.38,.3,.24,.18,.12]),(2014.15,[.692,.61,.55,.22,.16]),(2014.26,[.53,.47,.41,.25,.19,.13,.09]),
    (2014.4,[.52,.46,.4,.34,.28,.22,.16,.1]),(2014.55,[.5,.44,.38,.32,.26,.2,.14]),(2014.7,[.45,.38,.32,.26,.2,.14]),
    (2014.85,[.36,.3,.24,.18,.12,.06,.02]),(2014.94,[.565,.37,.31,.25,.19,.13,.06]),(2015.01,[.32,.26,.2,.14,.08,-.033]),
    (2015.09,[.418,.36,.3,.24,.18,.12,-.063]),(2015.23,[.36,.3,.24,.18,.12,.06,-.108]),(2015.3,[.443,.37,.31,.25,.19,.13,-.18]),
    (2015.46,[.38,.32,.26,.2,.14,-.16]),(2015.57,[.36,.3,.24,.18,-.243]),(2015.63,[.34,.28,.22,.16,.1,-.292]),
    (2015.8,[.45,.3,.24,.18,.12,.06,.02]),(2015.82,[.27,.21,.15,.09,-.259]),(2015.9,[.45,.28,.22,.16,.1,.05]),
    (2015.98,[.378,.27,.21,.15,.09,.03,-.269]),(2016.1,[.35,.2,.14,.08,.03]),(2016.25,[.35,.2,.15,.1,.06]),
    (2016.41,[.35,.3,.24,.17,.13]),(2016.47,[.33,.28,.22]),
    # the thick part of the band
    (2008.59,[.55,.28,.23]),(2008.7,[.3,.24]),(2008.85,[-.03,-.08,-.13,-.18,-.22,-.26]),(2008.95,[.06,0.0,-.05,-.1,-.15,-.2,-.25]),
    (2009.04,[.04,-.01,-.06,-.11,-.16,-.21,-.25]),(2009.12,[.02,-.03,-.08,-.13,-.18,-.23]),(2009.23,[.2,.12,.04,-.02,-.08,-.14,-.2]),
    (2009.36,[.42,.36,.3,.1,.05,0.0,-.05]),(2009.47,[.44,.39,.34,.28,.09,.04,-.01]),(2009.6,[.46,.41,.36,.1,.05,0.0,-.03]),
    (2009.78,[.43,.38,.33,.1,.05,0.0]),(2009.92,[.38,.33,.28,.07,.02,-.03]),(2010.08,[.35,.3,.25,.05,0.0,-.05]),
    (2010.21,[.34,.29,.24,.02,-.03,-.07]),(2010.34,[.32,.27,.22,0.0,-.05,-.09]),(2010.45,[.28,.23,.18,-.02,-.07,-.11]),
    (2010.56,[.25,.2,.16,-.04,-.08,-.11]),(2010.69,[.25,.2,-.02,-.07,-.1]),(2010.83,[.29,.25,.21,.01,-.04,-.07]),
    (2010.97,[.29,.25,.2,.09,.03,-.03]),(2011.09,[.31,.26,.21,.14,.08,.02]),(2011.21,[.31,.26,.21,.14,.07,.02,-.05]),
    (2011.35,[.3,.25,.21,.07,.02,-.03,-.08]),(2011.49,[.24,.19,.14,.05,0.0,-.05,-.1]),(2011.66,[.19,.14,.08,.03,-.02,-.06]),
    (2011.82,[.22,.16,.1,.04,-.01,-.05]),(2011.95,[.27,.2,.13,.07,.01,-.05]),(2012.05,[.33,.26,.2,.13,.07,0.0,-.05]),
    (2012.13,[.43,.36,.28,.2,.13,.07,.01]),(2012.22,[.37,.3,.23,.15,.08,.02,-.04]),(2012.35,[.22,.15,.09,.04,-.02,-.08]),
    (2012.48,[.17,.12,.06,0.0,-.05,-.1]),(2012.62,[.19,.14,.08,.03,-.03,-.08]),(2012.76,[.2,.14,.08,.03,-.02,-.06]),
    (2012.88,[.2,.14,.08,.03,-.03]),(2013.0,[.2,.14,.08,.02,-.03]),(2013.12,[.18,.12,.06,0.0,-.05]),(2013.24,[.18,.12,.06,0.0,-.05]),
    (2013.35,[.18,.12,.06,0.0,-.06,-.1]),(2013.54,[.28,.22,.16,.1,.06]),(2013.68,[.28,.22,.16,.1,.08]),
    (2013.82,[.38,.32,.26,.2,.14,.09]),(2013.95,[.48,.42,.36,.3,.24,.18,.12]),(2014.07,[.52,.46,.4,.34,.28,.22,.16,.1]),
    (2014.2,[.58,.52,.46,.4,.34,.2,.14,.1]),(2014.33,[.5,.44,.38,.32,.26,.2,.14,.1]),(2014.47,[.5,.44,.38,.32,.26,.2,.14,.1]),
    (2014.62,[.46,.4,.34,.28,.22,.16,.1]),(2014.77,[.4,.34,.28,.22,.16,.1,.04]),(2014.9,[.36,.3,.24,.18,.12,.06]),
    (2015.05,[.33,.27,.21,.15,.09,.04]),(2015.16,[.37,.31,.25,.19,.13,.07]),(2015.27,[.38,.32,.26,.2,.14,.08]),
    (2015.38,[.37,.31,.25,.19,.13]),(2015.51,[.35,.29,.23,.17,.1]),(2015.7,[.32,.26,.2,.14,.08,.03]),
    (2015.86,[.3,.24,.18,.12,.06,.02]),(2015.94,[.27,.21,.15,.09,.03]),(2016.04,[.3,.24,.18,.12,.06,.01]),
    (2016.17,[.32,.17,.11,.05,.02]),(2016.33,[.33,.2,.14,.09]),
]

panels = [
    dict(uk=uk_issd_ecrp, canada=canada_issd_ecrp, xname="ISSD", yname="ECRP", xt=issd_ticks, xl=issd_labels, yt=ecrp_ticks,
         xlim=(2002.757, 2016.04), ylim=(-.5475, 1.046), box=(238, 97, 2074, 1237), bg=(44, 44, 2125, 1555),
         xlab_y=1328, ylab_x=127, leg=(1157, 1434)),
    dict(uk=uk_issd_ecrt, canada=canada_issd_ecrt, xname="ISSD", yname="ECRT", xt=issd_ticks, xl=issd_labels, yt=ecrt_ticks,
         xlim=(2002.765, 2016.04), ylim=(-.562, 1.564), box=(2364, 100, 4190, 1234), bg=(2169, 48, 4240, 1551),
         xlab_y=1325, ylab_x=2256, leg=(3277, 1432)),
    dict(uk=uk_matd_ecrp, canada=canada_matd_ecrp, xname="MATD", yname="ECRP", xt=matd_ticks, xl=matd_labels, yt=ecrp_ticks,
         xlim=(2005.734, 2020.27), ylim=(-.547, 1.047), box=(238, 1610, 2077, 2752), bg=(44, 1557, 2125, 3072),
         xlab_y=2846, ylab_x=127, leg=(1157, 2950)),
    dict(uk=uk_matd_ecrt, canada=canada_matd_ecrt, xname="MATD", yname="ECRT", xt=matd_ticks, xl=matd_labels, yt=ecrt_ticks,
         xlim=(2005.742, 2020.26), ylim=(-.564, 1.563), box=(2364, 1615, 4190, 2750), bg=(2169, 1563, 4240, 3067),
         xlab_y=2841, ylab_x=2256, leg=(3277, 2946)),
]


def to_frame(pairs):
    return pd.DataFrame(pairs, columns=["date", "value"])


def columns_to_frame(columns):
    # each entry is one date with all the values stacked at it
    rows = [(x, y) for x, ys in columns for y in ys]
    return pd.DataFrame(rows, columns=["date", "value"])


def px(size):
    # pixels to points at dpi 100
    return size * 0.72


sns.set_theme(style="ticks")
plt.rcParams["font.family"] = ["Liberation Sans", "DejaVu Sans"]

fig = plt.figure(figsize=(W / 100, H / 100), dpi=100, facecolor="white")

for p in panels:
    x0, y0, x1, y1 = p["bg"]
    fig.patches.append(Rectangle((x0 / W, 1 - y1 / H), (x1 - x0) / W, (y1 - y0) / H, transform=fig.transFigure,
                                 facecolor=PANEL_BG, edgecolor="none", zorder=-5))

    x0, y0, x1, y1 = p["box"]
    ax = fig.add_axes([x0 / W, 1 - y1 / H, (x1 - x0) / W, (y1 - y0) / H], facecolor="white")

    sns.scatterplot(data=to_frame(p["uk"]), x="date", y="value", ax=ax, marker="o", s=px(23) ** 2, facecolor="none",
                    edgecolor=NAVY, linewidth=px(6), label="UK", zorder=3)
    sns.scatterplot(data=columns_to_frame(p["canada"]), x="date", y="value", ax=ax, marker="s", s=px(30) ** 2,
                    color=MAROON, linewidth=0, label="Canada", zorder=4)

    ax.set_xlim(*p["xlim"])
    ax.set_ylim(*p["ylim"])
    ax.set_xticks(p["xt"])
    ax.set_xticklabels(p["xl"], fontsize=px(29))
    ax.set_yticks(p["yt"])
    ax.set_yticklabels(["\u2212%.4f" % abs(v) if v < 0 else "%.4f" % v for v in p["yt"]], fontsize=px(41),
                       rotation=90, va="center")
    ax.tick_params(axis="x", length=px(21), width=px(4), pad=px(11), color="black")
    ax.tick_params(axis="y", length=px(21), width=px(4), pad=px(14), color="black")
    ax.grid(axis="y", color=PANEL_BG, linewidth=px(5), zorder=1)
    ax.set_axisbelow(True)
    sns.despine(ax=ax)
    for side in ["left", "bottom"]:
        ax.spines[side].set_linewidth(px(4))
        ax.spines[side].set_color("black")

    ax.set_xlabel("")
    ax.set_ylabel("")
    cx = (x0 + x1) / 2
    fig.text(cx / W, 1 - p["xlab_y"] / H, p["xname"], fontsize=px(52), ha="center", va="center")
    fig.text(p["ylab_x"] / W, 1 - (y0 + y1) / 2 / H, p["yname"], fontsize=px(53), rotation=90, ha="center", va="center")

    lx, ly = p["leg"]
    leg = ax.legend(loc="center", bbox_to_anchor=(lx / W, 1 - ly / H), bbox_transform=fig.transFigure, ncol=2,
                    fontsize=px(52), frameon=True, fancybox=False, framealpha=1, facecolor="white", edgecolor="black",
                    borderpad=0.5, handletextpad=0.7, columnspacing=1.45, handlelength=0.55, borderaxespad=0)
    leg.get_frame().set_linewidth(px(4))

# caption, the letter is bold
fig.text(2089 / W, 1 - 3141 / H, "(", fontsize=px(86), family="Liberation Serif", ha="center", va="center")
fig.text(2124 / W, 1 - 3141 / H, "a", fontsize=px(86), family="Liberation Serif", weight="bold", ha="center", va="center")
fig.text(2158 / W, 1 - 3141 / H, ")", fontsize=px(86), family="Liberation Serif", ha="center", va="center")

fig.savefig("out.png", dpi=100)
